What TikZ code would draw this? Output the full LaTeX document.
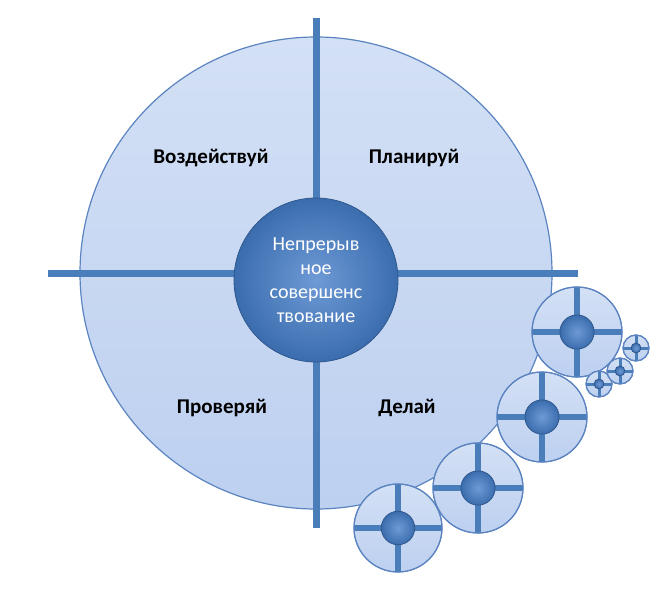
\documentclass[tikz,border=0pt]{standalone}
\usepackage{fontspec}
\setmainfont{Carlito}
\definecolor{ringfill}{HTML}{BDD0F0}
\definecolor{ringfilltop}{HTML}{D3E0F5}
\definecolor{ringline}{HTML}{5B84C0}
\definecolor{crossc}{HTML}{4A7EBB}
\definecolor{hubc}{HTML}{3B6DAE}
\definecolor{hubl}{HTML}{6E9AD6}
\tikzset{
  ring/.style={draw=ringline, line width=1.2pt, top color=ringfilltop, bottom color=ringfill},
  hub/.style={draw=hubc!80!black, line width=0.8pt, inner color=hubl, outer color=hubc},
  crossline/.style={crossc},
  lbl/.style={font=\bfseries\fontsize{21}{24}\selectfont, text=black}
}
\newcommand{\minicyc}[4]{%
  \fill[ring] (#1,#2) circle (#3);
  \fill[crossline] (#1-#3,#2-#4) rectangle (#1+#3,#2+#4);
  \fill[crossline] (#1-#4,#2-#3) rectangle (#1+#4,#2+#3);
  \draw[ringline, line width=1pt] (#1,#2) circle (#3);
  \shade[hub] (#1,#2) circle ({#3*0.38});
}
\begin{document}
\begin{tikzpicture}[x=1pt,y=-1pt]
\useasboundingbox (0,0) rectangle (670,600);
% main ring
\shade[ring] (316,273) circle (236);
\fill[crossline] (313,18) rectangle (320,528);
\fill[crossline] (48,270) rectangle (578,277);
\node[circle, minimum size=164pt, hub, text=white, align=center,
  font=\fontsize{20}{24}\selectfont] (core) at (316,280)
  {Непрерыв\\ное\\совершенс\\твование};
\node[lbl] (act) at (211,158) {Воздействуй};
\node[lbl] (plan) at (414,158) {Планируй};
\node[lbl] (check) at (222,408) {Проверяй};
\node[lbl] (do) at (407,408) {Делай};
% small copies
\minicyc{398}{528}{44}{3}
\minicyc{478}{488}{45}{3}
\minicyc{542}{417}{45}{3}
\minicyc{577}{332}{45}{3}
\minicyc{599}{384}{13}{1.5}
\minicyc{620}{371}{13}{1.5}
\minicyc{636}{348}{13}{1.5}
\end{tikzpicture}
\end{document}
